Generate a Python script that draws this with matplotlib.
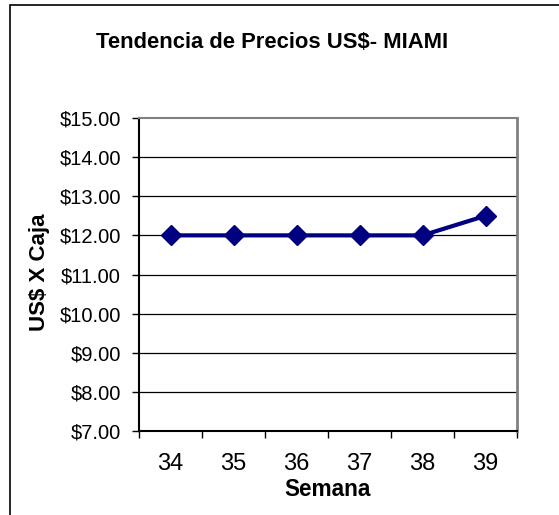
import matplotlib
matplotlib.use("Agg")
import matplotlib.pyplot as plt
from matplotlib.patches import Rectangle

# datos
semanas = ["34", "35", "36", "37", "38", "39"]
precios = [12.00, 12.00, 12.00, 12.00, 12.00, 12.50]
yticks = [7, 8, 9, 10, 11, 12, 13, 14, 15]

plt.rcParams['font.family'] = ['Liberation Sans', 'DejaVu Sans']

fig = plt.figure(figsize=(5.59, 5.15), dpi=100)
ax = fig.add_axes([139/559, 1-431/515, (517-139)/559, (431-118)/515])

# borde exterior del grafico
fig.patches.append(Rectangle((10/559, -0.1), 1.2, 1.1 - 5/515, transform=fig.transFigure,
                             fill=False, edgecolor="black", linewidth=1.2))

x = list(range(len(semanas)))
ax.plot(x, precios, color="#000080", linewidth=3, marker="D", markersize=10.5,
        markerfacecolor="#000080", markeredgecolor="#000080", zorder=3)

ax.set_xlim(-0.5, len(semanas) - 0.5)
ax.set_ylim(7, 15)
ax.set_yticks(yticks)
ax.set_yticklabels(["$%.2f" % v for v in yticks], fontsize=14.5)
for v in yticks[1:-1]:
    ax.axhline(v, color="black", linewidth=0.9, zorder=1)

# marcas entre categorias, etiquetas centradas
ax.set_xticks([i - 0.5 for i in range(len(semanas) + 1)])
ax.set_xticklabels([])
ax.set_xticks(x, minor=True)
ax.set_xticklabels(semanas, minor=True, fontsize=17)
ax.tick_params(axis="x", which="minor", length=0, pad=16)
ax.tick_params(axis="x", which="major", length=5, width=1, direction="out")
ax.tick_params(axis="y", length=5, width=1, direction="out", pad=8)

ax.spines["left"].set_color("black")
ax.spines["bottom"].set_color("black")
ax.spines["left"].set_linewidth(1.5)
ax.spines["bottom"].set_linewidth(1.5)
ax.spines["top"].set_color("#808080")
ax.spines["right"].set_color("#808080")
ax.spines["top"].set_linewidth(1.5)
ax.spines["right"].set_linewidth(2)

fig.text(272/559, 1-42/515, "Tendencia de Precios US$- MIAMI", ha="center", va="center",
         fontsize=15.8, fontweight="bold")
fig.text(40/559, 1-272/515, "US$ X Caja", ha="center", va="center", rotation=90,
         fontsize=16, fontweight="bold")
fig.text(328/559, 1-489/515, "Semana", ha="center", va="center",
         fontsize=16.3, fontweight="bold")

fig.savefig("out.png", dpi=100)
